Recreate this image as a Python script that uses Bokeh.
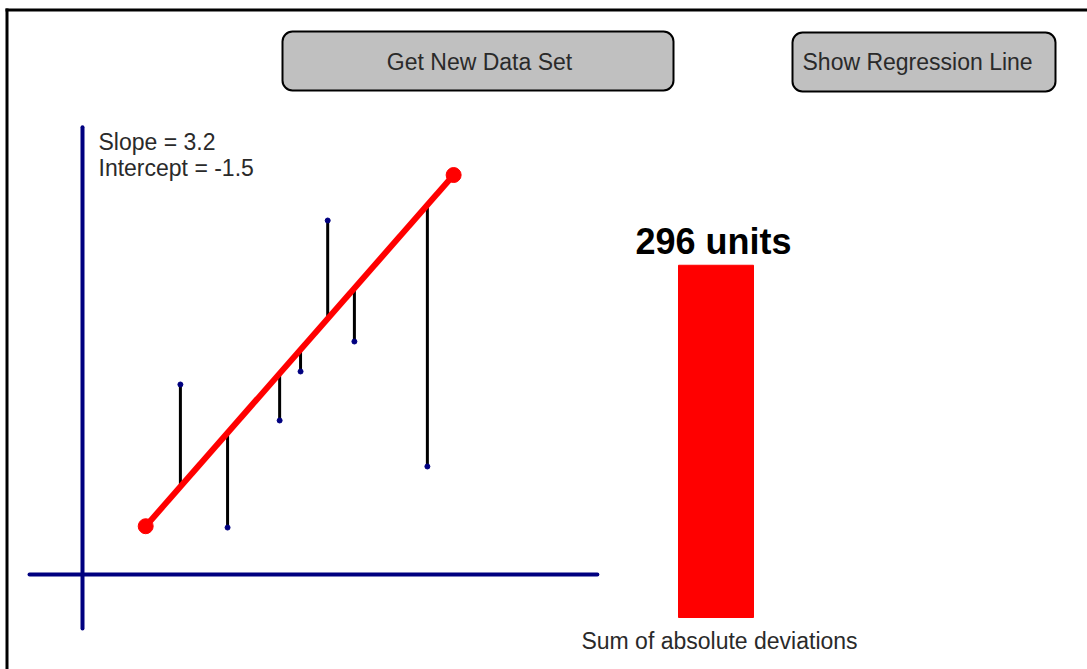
from bokeh.plotting import figure
from bokeh.models import Range1d, BoxAnnotation, Label
from bokeh.core.properties import value
from bokeh.embed import file_html
from bokeh.resources import INLINE

# ---------------- data ----------------
x_vals = [2.20, 3.26, 4.43, 4.90, 5.51, 6.11, 7.75]
y_vals = [11.98, 2.96, 9.71, 12.80, 22.32, 14.69, 6.81]
slope = 3.2
intercept = -1.5
line_x = [1.42, 8.34]
sum_abs_dev = 296
button_labels = ["Get New Data Set", "Show Regression Line"]
caption = "Sum of absolute deviations"

# ---------------- layout (pixels) ----------------
W, H = 1087, 669
ORIGIN_X, ORIGIN_Y = 82, 574          # scatter origin inside the figure
PX_PER_X, PX_PER_Y = 44.5, 15.86      # scatter scale
BAR_ZERO_Y, BAR_PX_PER_UNIT = 617, 1.19
FONT = "Liberation Sans"
TXT = "#2a2a2a"

p = figure(width=W, height=H, x_range=Range1d(0, W), y_range=Range1d(H, 0),
           output_backend="svg", toolbar_location=None, min_border=0,
           x_axis_location=None, y_axis_location=None)
p.grid.visible = False
p.outline_line_color = None
p.background_fill_color = "white"
p.border_fill_color = "white"

p.extra_x_ranges = {"dx": Range1d(-ORIGIN_X / PX_PER_X, (W - ORIGIN_X) / PX_PER_X)}
p.extra_y_ranges = {
    "dy": Range1d(-(H - ORIGIN_Y) / PX_PER_Y, ORIGIN_Y / PX_PER_Y),
    "by": Range1d(-(H - BAR_ZERO_Y) / BAR_PX_PER_UNIT, BAR_ZERO_Y / BAR_PX_PER_UNIT),
}

# frame border (top & left)
p.segment(x0=[5, 6.5], y0=[9.5, 8], x1=[W, 6.5], y1=[9.5, H],
          line_color="black", line_width=3)

# buttons
btn_boxes = [(282, 673, 31, 90), (792, 1055, 32, 91)]
for (l, r, t, b) in btn_boxes:
    p.add_layout(BoxAnnotation(left=l, right=r, top=t, bottom=b,
                               fill_color="#c0c0c0", fill_alpha=1.0,
                               line_color="black", line_width=2, line_alpha=1.0,
                               border_radius=10))
p.add_layout(Label(x=479, y=61, text=button_labels[0], text_align="center",
                   text_baseline="middle", text_font=FONT,
                   text_font_size="23px", text_color=TXT))
p.add_layout(Label(x=802, y=61.5, text=button_labels[1], text_align="left",
                   text_baseline="middle", text_font=FONT,
                   text_font_size="23px", text_color=TXT))

# axes cross
AX_X = (-1.19, 11.57)
AX_Y = (-3.40, 28.2)
p.segment(x0=[AX_X[0], 0], y0=[0, AX_Y[0]], x1=[AX_X[1], 0], y1=[0, AX_Y[1]],
          line_color="#000080", line_width=4, line_cap="round",
          x_range_name="dx", y_range_name="dy")

# deviations
fit_vals = [slope * x + intercept for x in x_vals]
p.segment(x0=x_vals, y0=y_vals, x1=x_vals, y1=fit_vals,
          line_color="black", line_width=3,
          x_range_name="dx", y_range_name="dy")

# regression line
line_y = [slope * x + intercept for x in line_x]
p.line(line_x, line_y, line_color="red", line_width=6,
       x_range_name="dx", y_range_name="dy")
p.scatter(line_x, line_y, size=15, fill_color="red", line_color="red",
          x_range_name="dx", y_range_name="dy")

# data points
p.scatter(x_vals, y_vals, size=5, fill_color="#000080", line_color="#000080",
          x_range_name="dx", y_range_name="dy")

# slope / intercept text
p.add_layout(Label(x=98, y=141.5, text=f"Slope = {slope}", text_baseline="middle",
                   text_font=FONT, text_font_size="23px", text_color=TXT))
p.add_layout(Label(x=98, y=167.5, text=f"Intercept = {intercept}", text_baseline="middle",
                   text_font=FONT, text_font_size="23px", text_color=TXT))

# bar
p.vbar(x=[715.5], width=75, bottom=0, top=[sum_abs_dev], fill_color="red",
       line_color="red", y_range_name="by")
p.text(x=[713], y=[sum_abs_dev], text=[f"{sum_abs_dev} units"], y_offset=-23.5,
       text_align="center", text_baseline="middle",
       text_font=value(FONT), text_font_size="36px", text_font_style="bold",
       text_color="black", y_range_name="by")
p.add_layout(Label(x=719, y=640, text=caption, text_align="center",
                   text_baseline="middle", text_font=FONT,
                   text_font_size="23px", text_color=TXT))

open("out.html", "w").write(file_html(p, INLINE))
